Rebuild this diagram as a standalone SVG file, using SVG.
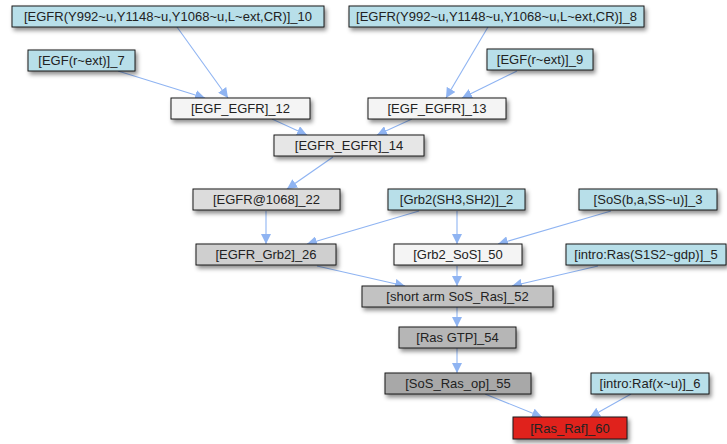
<svg xmlns="http://www.w3.org/2000/svg" width="727" height="444" viewBox="0 0 727 444">
<style>
.n rect{stroke:#1a1a1a;stroke-width:1;filter:url(#sh)}
.n text{font-family:"Liberation Sans",Arial,sans-serif;font-size:13px;fill:#222;text-anchor:middle}
.b rect{fill:#b8dfe9}
.e path{fill:none;stroke:#8fb4f2;stroke-width:1.1;marker-end:url(#ah)}
</style>
<defs>
<filter id="sh" x="-10%" y="-30%" width="125%" height="190%">
<feDropShadow dx="2" dy="3" stdDeviation="2" flood-color="#000" flood-opacity="0.45"/>
</filter>
<marker id="ah" viewBox="0 0 10 10" refX="10" refY="5" markerWidth="10" markerHeight="10" markerUnits="userSpaceOnUse" orient="auto">
<path d="M0,0 L10,5 L0,10 z" fill="#8fb4f2"/>
</marker>
</defs>
<g id="edges" class="e">
<path d="M177,27 L228,98"/>
<path d="M118,71 L205,98"/>
<path d="M488,27 L446,98"/>
<path d="M517,71 L462,98"/>
<path d="M272,119 L307,135"/>
<path d="M412,119 L377,135"/>
<path d="M333,157 L287,189"/>
<path d="M266,211 L266,244"/>
<path d="M419,211 L307,244"/>
<path d="M457,211 L457,244"/>
<path d="M611,211 L498,244"/>
<path d="M317,266 L405,286"/>
<path d="M457,266 L457,286"/>
<path d="M598,266 L512,286"/>
<path d="M457,307 L457,327"/>
<path d="M457,348 L457,373"/>
<path d="M485,394 L542,417"/>
<path d="M631,394 L590,417"/>
</g>
<g id="n10" class="n b"><rect x="12" y="6" width="312" height="21"/><text x="168" y="21">[EGFR(Y992~u,Y1148~u,Y1068~u,L~ext,CR)]_10</text></g>
<g id="n8" class="n b"><rect x="349" y="6" width="295" height="21"/><text x="496.5" y="21">[EGFR(Y992~u,Y1148~u,Y1068~u,L~ext,CR)]_8</text></g>
<g id="n7" class="n b"><rect x="28" y="50" width="107" height="21"/><text x="81.5" y="65">[EGF(r~ext)]_7</text></g>
<g id="n9" class="n b"><rect x="487" y="49" width="106" height="21"/><text x="540" y="64">[EGF(r~ext)]_9</text></g>
<g id="n12" class="n"><rect x="171" y="98" width="139" height="21" fill="#f4f4f4"/><text x="240.5" y="113">[EGF_EGFR]_12</text></g>
<g id="n13" class="n"><rect x="368" y="98" width="138" height="21" fill="#f4f4f4"/><text x="437" y="113">[EGF_EGFR]_13</text></g>
<g id="n14" class="n"><rect x="274" y="135" width="150" height="21" fill="#e6e6e6"/><text x="349" y="150">[EGFR_EGFR]_14</text></g>
<g id="n22" class="n"><rect x="193" y="189" width="147" height="21" fill="#dcdcdc"/><text x="266.5" y="204">[EGFR@1068]_22</text></g>
<g id="n2" class="n b"><rect x="388" y="189" width="137" height="21"/><text x="456.5" y="204">[Grb2(SH3,SH2)]_2</text></g>
<g id="n3" class="n b"><rect x="579" y="189" width="138" height="21"/><text x="648" y="204">[SoS(b,a,SS~u)]_3</text></g>
<g id="n26" class="n"><rect x="196" y="244" width="140" height="21" fill="#cfcfcf"/><text x="266" y="259">[EGFR_Grb2]_26</text></g>
<g id="n50" class="n"><rect x="394" y="244" width="128" height="21" fill="#f4f4f4"/><text x="458" y="259">[Grb2_SoS]_50</text></g>
<g id="n5" class="n b"><rect x="566" y="244" width="160" height="21"/><text x="646" y="259">[intro:Ras(S1S2~gdp)]_5</text></g>
<g id="n52" class="n"><rect x="362" y="286" width="191" height="21" fill="#c2c2c2"/><text x="457.5" y="301">[short arm SoS_Ras]_52</text></g>
<g id="n54" class="n"><rect x="399" y="327" width="117" height="21" fill="#b6b6b6"/><text x="457.5" y="342">[Ras GTP]_54</text></g>
<g id="n55" class="n"><rect x="385" y="373" width="146" height="21" fill="#a8a8a8"/><text x="458" y="388">[SoS_Ras_op]_55</text></g>
<g id="n6" class="n b"><rect x="591" y="373" width="118" height="21"/><text x="650" y="388">[intro:Raf(x~u)]_6</text></g>
<g id="n60" class="n"><rect x="513" y="417" width="114" height="22" fill="#e0241f"/><text x="570" y="433">[Ras_Raf]_60</text></g>
</svg>
